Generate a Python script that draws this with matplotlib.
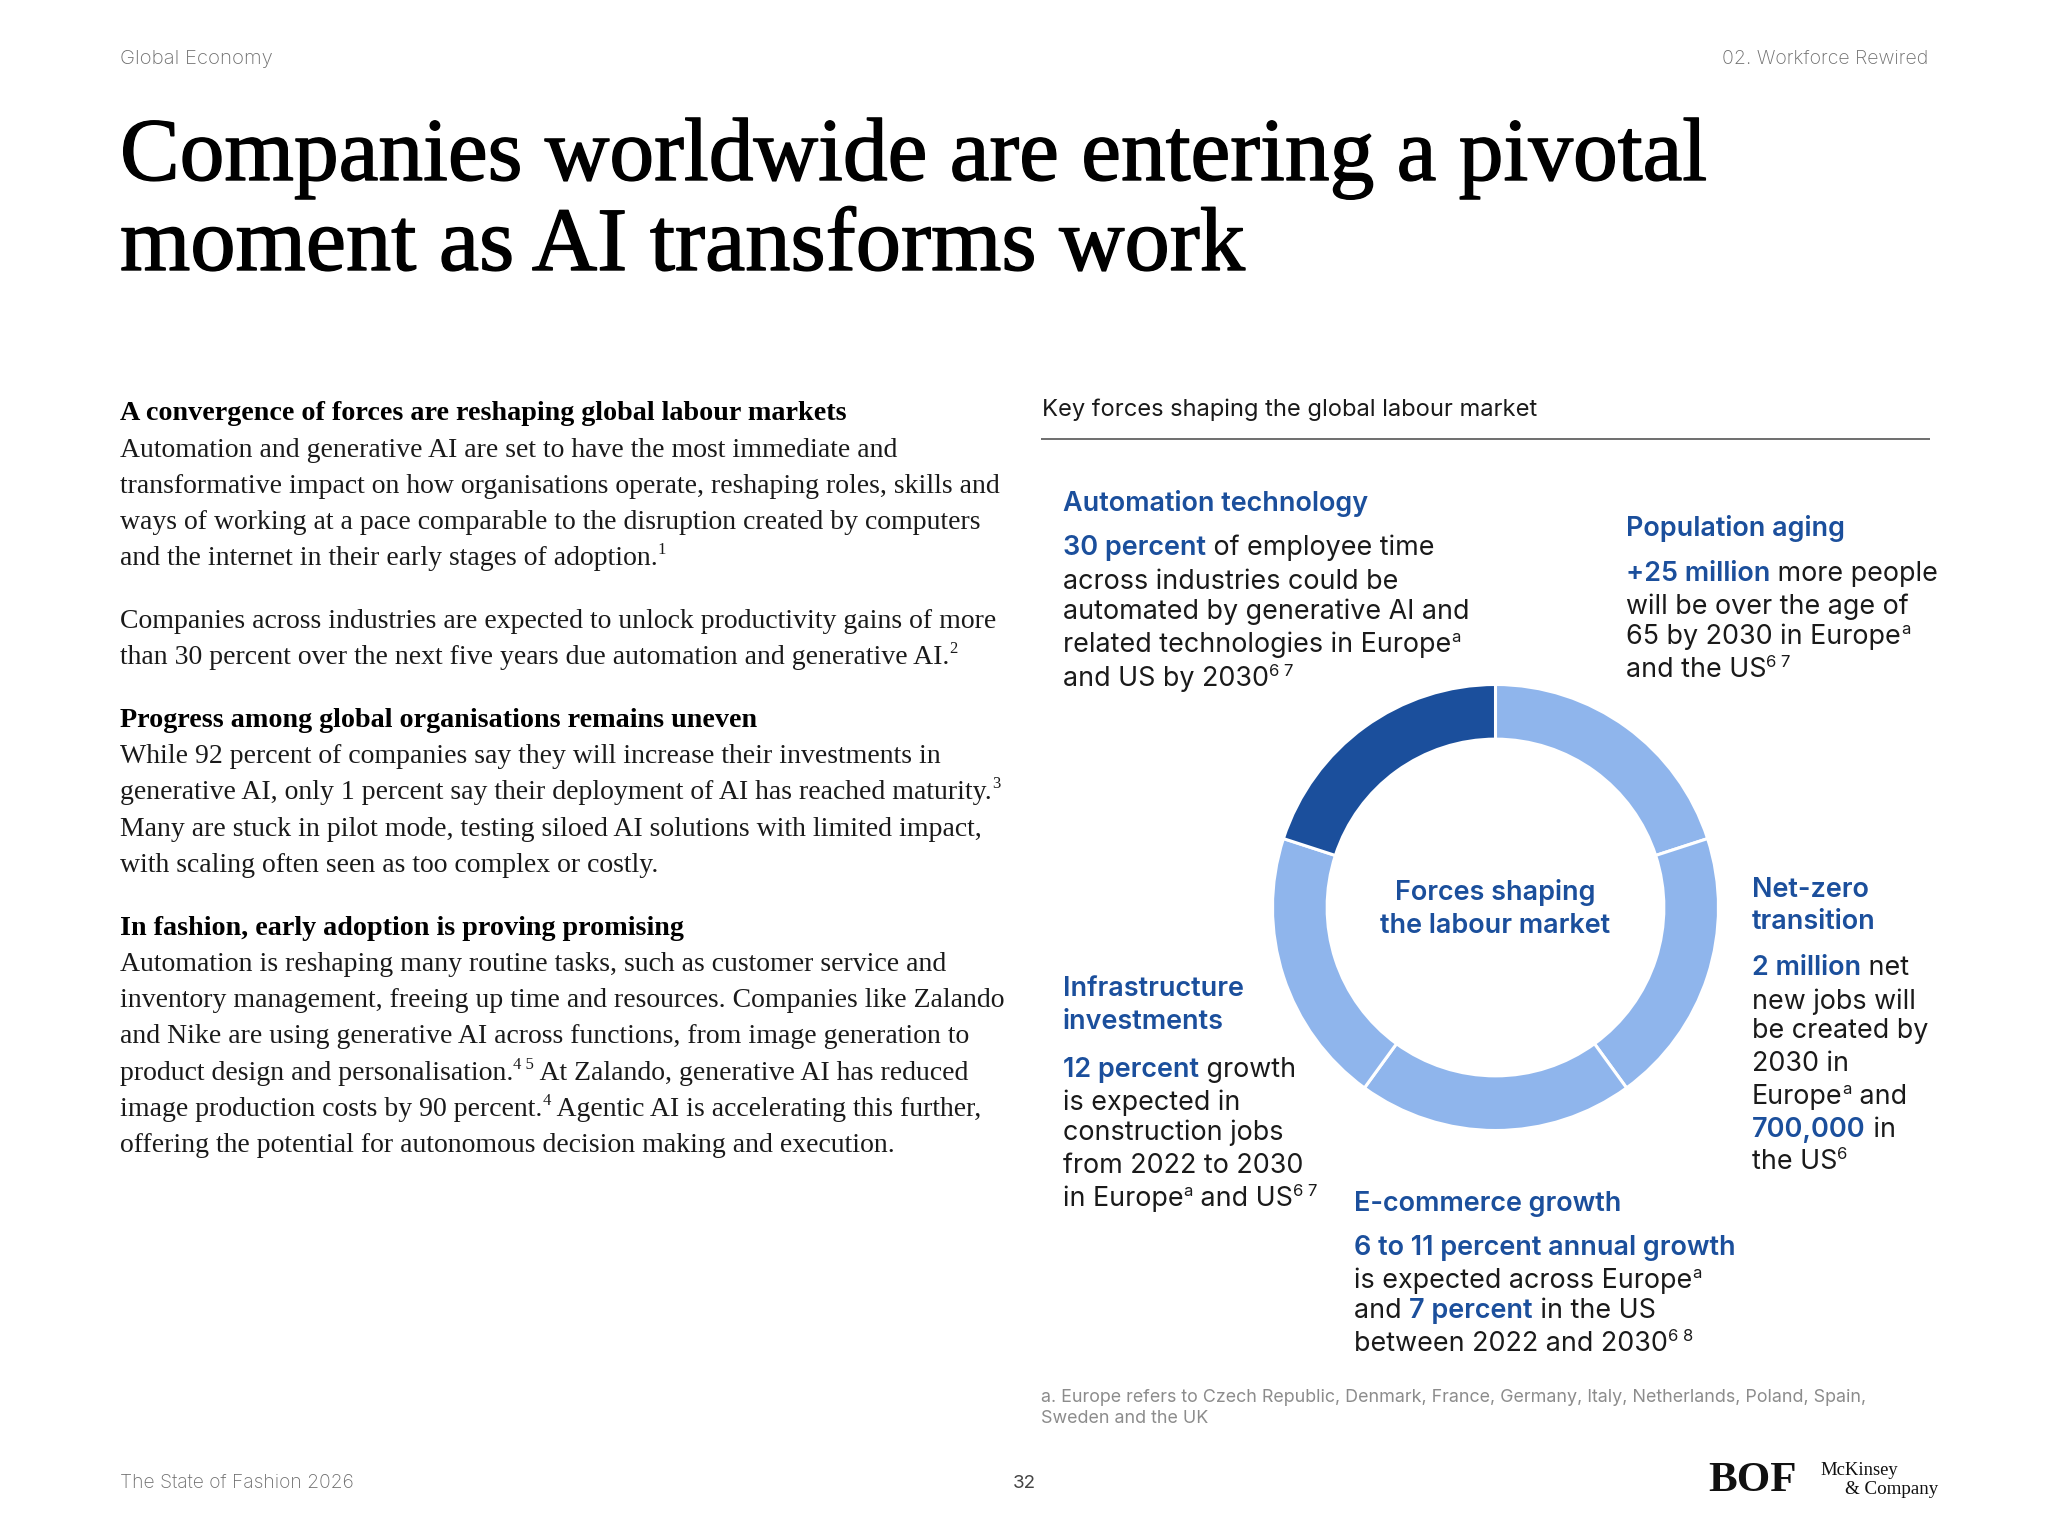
import matplotlib
matplotlib.use("Agg")
import matplotlib.pyplot as plt
import matplotlib.patheffects as pe
from matplotlib.font_manager import FontProperties

SANS = "Inter"
SERIF = "Liberation Serif"
BLUE = "#1B4F9C"
LIGHT = "#8FB5EC"
INK = "#1A1A1A"
GREY = "#8C8C8C"
GREY_LIGHT = "#6E6E6E"

# Chart data
force_names = ["Population aging", "Net-zero transition", "E-commerce growth",
               "Infrastructure investments", "Automation technology"]
force_shares = [1, 1, 1, 1, 1]
force_colors = [LIGHT, LIGHT, LIGHT, LIGHT, BLUE]

title_lines = ["Companies worldwide are entering a pivotal",
               "moment as AI transforms work"]
chart_title = "Key forces shaping the global labour market"
centre_lines = ["Forces shaping", "the labour market"]

# Run codes: n normal, b blue bold, s superscript
left_body = [
    (420, [("A convergence of forces are reshaping global labour markets", "h")]),
    (457, [("Automation and generative AI are set to have the most immediate and", "n")]),
    (493, [("transformative impact on how organisations operate, reshaping roles, skills and", "n")]),
    (529, [("ways of working at a pace comparable to the disruption created by computers", "n")]),
    (565, [("and the internet in their early stages of adoption.", "n"), ("1", "s")]),
    (628, [("Companies across industries are expected to unlock productivity gains of more", "n")]),
    (664, [("than 30 percent over the next five years due automation and generative AI.", "n"), ("2", "s")]),
    (727, [("Progress among global organisations remains uneven", "h")]),
    (763, [("While 92 percent of companies say they will increase their investments in", "n")]),
    (799, [("generative AI, only 1 percent say their deployment of AI has reached maturity.", "n"), ("3", "s")]),
    (836, [("Many are stuck in pilot mode, testing siloed AI solutions with limited impact,", "n")]),
    (872, [("with scaling often seen as too complex or costly.", "n")]),
    (935, [("In fashion, early adoption is proving promising", "h")]),
    (971, [("Automation is reshaping many routine tasks, such as customer service and", "n")]),
    (1007, [("inventory management, freeing up time and resources. Companies like Zalando", "n")]),
    (1043, [("and Nike are using generative AI across functions, from image generation to", "n")]),
    (1080, [("product design and personalisation.", "n"), ("4 5", "s"), (" At Zalando, generative AI has reduced", "n")]),
    (1116, [("image production costs by 90 percent.", "n"), ("4", "s"), (" Agentic AI is accelerating this further,", "n")]),
    (1152, [("offering the potential for autonomous decision making and execution.", "n")]),
]

automation = (1063, [
    (511, [("Automation technology", "b")]),
    (555, [("30 percent", "b"), (" of employee time", "n")]),
    (589, [("across industries could be", "n")]),
    (619, [("automated by generative AI and", "n")]),
    (652, [("related technologies in Europe", "n"), ("a", "s")]),
    (686, [("and US by 2030", "n"), ("6 7", "s")]),
])
population = (1626, [
    (536, [("Population aging", "b")]),
    (581, [("+25 million", "b"), (" more people", "n")]),
    (614, [("will be over the age of", "n")]),
    (644, [("65 by 2030 in Europe", "n"), ("a", "s")]),
    (677, [("and the US", "n"), ("6 7", "s")]),
])
netzero = (1752, [
    (897, [("Net-zero", "b")]),
    (929, [("transition", "b")]),
    (975, [("2 million", "b"), (" net", "n")]),
    (1009, [("new jobs will", "n")]),
    (1038, [("be created by", "n")]),
    (1071, [("2030 in", "n")]),
    (1104, [("Europe", "n"), ("a", "s"), (" and", "n")]),
    (1137, [("700,000", "b"), (" in", "n")]),
    (1169, [("the US", "n"), ("6", "s")]),
])
infrastructure = (1063, [
    (996, [("Infrastructure", "b")]),
    (1029, [("investments", "b")]),
    (1077, [("12 percent", "b"), (" growth", "n")]),
    (1110, [("is expected in", "n")]),
    (1140, [("construction jobs", "n")]),
    (1173, [("from 2022 to 2030", "n")]),
    (1206, [("in Europe", "n"), ("a", "s"), (" and US", "n"), ("6 7", "s")]),
])
ecommerce = (1354, [
    (1211, [("E-commerce growth", "b")]),
    (1255, [("6 to 11 percent annual growth", "b")]),
    (1288, [("is expected across Europe", "n"), ("a", "s")]),
    (1318, [("and ", "n"), ("7 percent", "b"), (" in the US", "n")]),
    (1351, [("between 2022 and 2030", "n"), ("6 8", "s")]),
])
footnote_lines = ["a. Europe refers to Czech Republic, Denmark, France, Germany, Italy, Netherlands, Poland, Spain,",
                  "Sweden and the UK"]

W, H = 2048, 1536
fig = plt.figure(figsize=(W / 100, H / 100), dpi=100, facecolor="white")
page = fig.add_axes([0, 0, 1, 1])
page.set_xlim(0, W)
page.set_ylim(H, 0)
page.axis("off")
renderer = fig.canvas.get_renderer()


def advance(text, prop):
    wa = renderer.get_text_width_height_descent("|" + text + "|", prop, False)[0]
    wb = renderer.get_text_width_height_descent("||", prop, False)[0]
    return wa - wb


def put(x, y, text, family, size, color=INK, weight="normal", ha="left"):
    return page.text(x, y, text, family=family, fontsize=size, color=color,
                     weight=weight, ha=ha, va="baseline")


def runs(x, y, parts, family, size, head_weight, bold_size=None, sup_ratio=0.62, sup_rise=0.36, head_size=None):
    for text, kind in parts:
        if kind == "s":
            s, w, c, yy = size * sup_ratio, "normal", INK, y - size * sup_rise * 100 / 72
        elif kind == "b":
            s, w, c, yy = bold_size or size, "semibold", BLUE, y
        elif kind == "h":
            s, w, c, yy = head_size or size, head_weight, "black", y
        else:
            s, w, c, yy = size, "normal", INK, y
        put(x, yy, text, family, s, c, w)
        x += advance(text, FontProperties(family=family, size=s, weight=w))


# Header
put(120.5, 64, "Global Economy", SANS, 14.6, GREY_LIGHT, "light")
put(1928, 64, "02. Workforce Rewired", SANS, 14.1, GREY_LIGHT, "light", ha="right")

# Title
for y, line, size in zip((180, 270), title_lines, (64.4, 65.1)):
    t = put(120, y, line, SERIF, size, "black")
    t.set_path_effects([pe.withStroke(linewidth=1.0, foreground="black")])

# Left column
for y, parts in left_body:
    runs(120, y, parts, SERIF, 20.0, "bold", sup_ratio=0.6, sup_rise=0.4, head_size=20.25)

# Right column
put(1042, 416, chart_title, SANS, 17.05, INK)
page.plot([1041, 1930], [438.5, 438.5], color="#555555", lw=1.2, solid_capstyle="butt")

for block_x, block in (automation, population, netzero, infrastructure, ecommerce):
    for y, parts in block:
        runs(block_x, y, parts, SANS, 19.35, "bold", bold_size=19.45)

for y, line in zip((899.5, 933), centre_lines):
    put(1495, y, line, SANS, 19.45, BLUE, "semibold", ha="center")

# Donut
cx, cy, R = 1495.5, 907.5, 223
donut = fig.add_axes([(cx - R) / W, 1 - (cy + R) / H, 2 * R / W, 2 * R / H])
donut.pie(force_shares, colors=force_colors, startangle=90, counterclock=False, radius=1,
          wedgeprops=dict(width=0.245, edgecolor="white", linewidth=2.2))
donut.set_xlim(-1, 1)
donut.set_ylim(-1, 1)
donut.set_aspect("equal")
donut.axis("off")

# Footnote and footer
for y, line in zip((1402, 1423), footnote_lines):
    put(1041, y, line, SANS, 12.9, GREY)
put(120, 1488, "The State of Fashion 2026", SANS, 13.9, GREY_LIGHT, "light")
put(1024, 1488, "32", SANS, 13.5, "#444444", ha="center")
put(1708, 1491, "BOF", SERIF, 31, "#111111", "bold")
put(1820, 1475, "McKinsey", SERIF, 13.4, "#111111")
put(1845, 1494, "& Company", SERIF, 13.7, "#111111")

fig.savefig("out.png", dpi=100, facecolor="white")
